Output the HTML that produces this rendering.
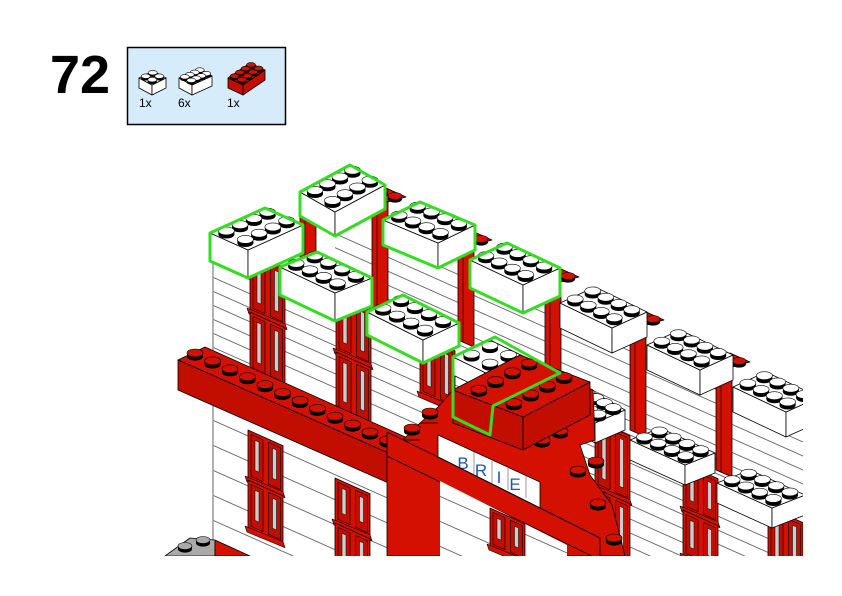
<!DOCTYPE html>
<html><head><meta charset="utf-8"><style>
html,body{margin:0;padding:0;background:#fff;width:842px;height:596px;overflow:hidden}
</style></head><body>
<svg id="s" width="842" height="596" viewBox="0 0 842 596" xmlns="http://www.w3.org/2000/svg" style="position:absolute;left:0;top:0">
<defs>
<pattern id="w1" width="60" height="14" patternUnits="userSpaceOnUse" patternTransform="skewY(24)"><line x1="0" y1="0.5" x2="60" y2="0.5" stroke="#333" stroke-width="0.7"/></pattern>
<pattern id="w2" width="60" height="25" patternUnits="userSpaceOnUse" patternTransform="skewY(24)"><line x1="0" y1="0.5" x2="60" y2="0.5" stroke="#333" stroke-width="0.7"/></pattern>
<clipPath id="pg"><rect x="0" y="0" width="803" height="556"/></clipPath>
</defs>
<text x="50" y="93" font-family="Liberation Sans, sans-serif" font-weight="bold" font-size="54" fill="#000">72</text>
<rect x="127.5" y="47.5" width="158" height="77" fill="#d6ecfb" stroke="#000" stroke-width="1.5"/>
<g id="parts"></g>
<text x="139" y="107" font-family="Liberation Sans, sans-serif" font-size="12">1x</text>
<text x="178" y="107" font-family="Liberation Sans, sans-serif" font-size="12">6x</text>
<text x="227" y="107" font-family="Liberation Sans, sans-serif" font-size="12">1x</text>
<g id="scene" clip-path="url(#pg)"></g>
</svg>
<script>
const NS="http://www.w3.org/2000/svg";
let G=document.getElementById('scene');
function el(t,a,p){const e=document.createElementNS(NS,t);for(const k in a)e.setAttribute(k,a[k]);(p||G).appendChild(e);return e;}
function poly(pts,fill,stroke,sw,p){return el('polygon',{points:pts.map(q=>q.join(',')).join(' '),fill:fill,stroke:stroke||'#000','stroke-width':sw||0.8,'stroke-linejoin':'round'},p);}
const RED='#d41100',RED2='#c20e00';
function stud(x,y,col,r,p){r=r||8;const ry=r*0.5;const hh=r*0.45;
 el('ellipse',{cx:x,cy:y+hh,rx:r,ry:ry,fill:'#000'},p);
 el('rect',{x:x-r,y:y,width:2*r,height:hh,fill:'#000'},p);
 el('ellipse',{cx:x,cy:y,rx:r,ry:ry,fill:col,stroke:'#000','stroke-width':0.6},p);}
function brick(L,T,F,h,col,green,sl,sf,p,sr){
 const R=[T[0]+F[0]-L[0],T[1]+F[1]-L[1]];
 const c=col=='w'?'#fff':RED, c2=col=='w'?'#fff':RED2, sc=col=='w'?'#fff':RED;
 sr=sr||8;
 poly([L,F,[F[0],F[1]+h],[L[0],L[1]+h]],c2,'#000',0.8,p);
 poly([F,R,[R[0],R[1]+h],[F[0],F[1]+h]],c2,'#000',0.8,p);
 poly([L,T,R,F],c,'#000',0.8,p);
 sl=sl||4;sf=sf||2;
 for(let j=sl-1;j>=0;j--)for(let i=0;i<sf;i++){
  const a=(j+.5)/sl,b=(i+.5)/sf;
  stud(L[0]+(T[0]-L[0])*a+(F[0]-L[0])*b, L[1]+(T[1]-L[1])*a+(F[1]-L[1])*b-sr*0.4,sc,sr,p);}
 if(green)poly([L,T,R,[R[0],R[1]+h],[F[0],F[1]+h],[L[0],L[1]+h]],'none','#33dd22',3,p);
}
function wall(pts,pat){poly(pts,'#fff','none',0);poly(pts,'url(#'+pat+')','none',0);}
function win(x0,y0,H,n){
 const s=0.45,w=35;n=n||1;
 for(let k=0;k<n;k++){const yy=y0+k*(H/n),hh=H/n;
  poly([[x0,yy],[x0+w,yy+w*s],[x0+w,yy+w*s+hh],[x0,yy+hh]],RED,'#000',0.8);
  for(let d=0;d<2;d++){const xa=x0+3+d*17.5;const ya=yy+(xa-x0)*s;
   poly([[xa,ya+3],[xa+12,ya+3+12*s],[xa+12,ya+hh-5+12*s],[xa,ya+hh-5]],RED2,'#000',0.6);
   poly([[xa+4,ya+9],[xa+8,ya+9+4*s],[xa+8,ya+hh-11+4*s],[xa+4,ya+hh-11]],'#ccc','#000',0.5);}
  poly([[x0-3,yy+hh-4],[x0+w,yy+hh-4+w*s],[x0+w+2,yy+hh+w*s+2],[x0-1,yy+hh+2]],RED,'#000',0.6);
 }}
function door(x0,y0,y1){poly([[x0,y0],[x0+16,y0+7],[x0+16,y1+7],[x0,y1]],RED,'#000',0.8);
 el('line',{x1:x0+5,y1:y0+2,x2:x0+5,y2:y1+2,stroke:'#000','stroke-width':0.6});
 poly([[x0,y0],[x0+14,y0-7],[x0+34,y0+2],[x0+16,y0+7]],RED,'#000',0.8);
 stud(x0+9,y0-4,RED,7);stud(x0+23,y0+1,RED,7);}

// parts box
const P=document.getElementById('parts');
brick([139,78],[153,71],[152,85],10,'w',false,2,2,P,4.5);
brick([179,78],[199,69],[192,85],10,'w',false,4,2,P,4.5);
brick([228,78],[250,63],[243,85],10,'r',false,4,2,P,4.5);

// walls
wall([[213,255],[460,370],[460,445],[213,352]],'w1');
wall([[335,230],[560,300],[560,420],[335,330]],'w1');
wall([[213,385],[400,470],[400,556],[213,556]],'w2');
wall([[540,300],[803,420],[803,556],[540,556]],'w1');
el('line',{x1:213,y1:255,x2:213,y2:556,stroke:'#999','stroke-width':1.5});
// back doors
door(300,200,300);door(372,195,310);door(458,238,340);door(545,275,365);door(630,318,430);door(716,360,470);
// back row bricks
brick([300,192],[350,165],[335,212],24,'w',true);
brick([383,220],[420,202],[438,243],25,'w',true,2,4);
brick([470,260],[507,243],[523,285],28,'w',true,2,4);
brick([560,303],[595,287],[612,328],25,'w',false,2,4);
brick([647,345],[680,330],[700,370],25,'w',false,2,4);
brick([733,387],[766,372],[786,412],25,'w',false,2,4);
// upper windows
win(250,252,120,2);win(336,293,118,2);win(420,335,60,1);
win(595,420,136,2);win(683,463,94,2);win(768,507,60,1);
// front row bricks
brick([210,233],[265,208],[248,250],28,'w',true);
brick([280,267],[317,252],[335,293],28,'w',true,2,4);
brick([367,312],[403,295],[423,340],23,'w',true,2,4);
brick([560,403],[590,390],[595,423],20,'w',false,2,4);
brick([630,440],[660,428],[685,465],20,'w',false,2,4);
brick([717,483],[750,470],[772,508],20,'w',false,2,4);
// band
poly([[178,360],[205,347],[412,440],[393,455]],RED);
poly([[178,360],[393,455],[393,485],[178,390]],RED2);
for(let i=0;i<12;i++)stud(195+i*17.5,353+i*7.9,RED);
// lower windows
win(248,430,100,2);win(335,478,90,2);
// gray plate
poly([[165,556],[190,538],[215,540],[215,556]],'#aaa');stud(185,546,'#aaa',7);stud(203,540,'#aaa',7);
poly([[215,540],[250,556],[215,556]],RED);
// central red mass
poly([[387,457],[403,440],[420,423],[438,407],[453,390],[520,355],[593,390],[595,440],[580,445],[590,475],[612,505],[625,556],[387,556]],RED);
[[387,457,403,440],[403,440,420,423],[420,423,438,407]].forEach(a=>{el('line',{x1:a[0],y1:a[1],x2:a[2],y2:a[1],stroke:'#000','stroke-width':0.7});});
stud(395,445,RED);stud(412,428,RED);stud(430,412,RED);stud(542,440,RED);stud(560,431,RED);stud(578,470,RED);stud(596,461,RED);stud(598,503,RED);stud(614,538,RED);
// panel
poly([[438,435],[540,482],[540,508],[438,457]],'#fff');
[[458,444],[476,453],[492,460],[510,468]].forEach(a=>el('line',{x1:a[0]+16,y1:a[1]+8,x2:a[0]+16,y2:a[1]+30,stroke:'#555','stroke-width':0.6}));
const T=[['B',463,469],['R',481,476],['I',499,483],['E',515,490]];
T.forEach(t=>{const e=el('text',{x:t[1],y:t[2],'font-family':'Liberation Sans, sans-serif','font-size':17,fill:'#1f55b0','text-anchor':'middle'});e.textContent=t[0];});
// beam
poly([[387,432],[438,457],[600,538],[600,560],[387,456]],RED);
el('line',{x1:438,y1:457,x2:600,y2:538,stroke:'#000','stroke-width':0.8});
// under beam white
wall([[440,481],[567,545],[567,556],[440,556]],'w2');
win(490,508,40,1);
// top white 2x2 + red brick
brick([453,357],[490,340],[490,375],18,'w',false,2,2);
brick([453,390],[520,355],[523,417],33,'r',false,4,2);
poly([[453,357],[495,337],[560,373],[493,406],[490,435],[453,417]],'none','#33dd22',3);
</script>
</body></html>
